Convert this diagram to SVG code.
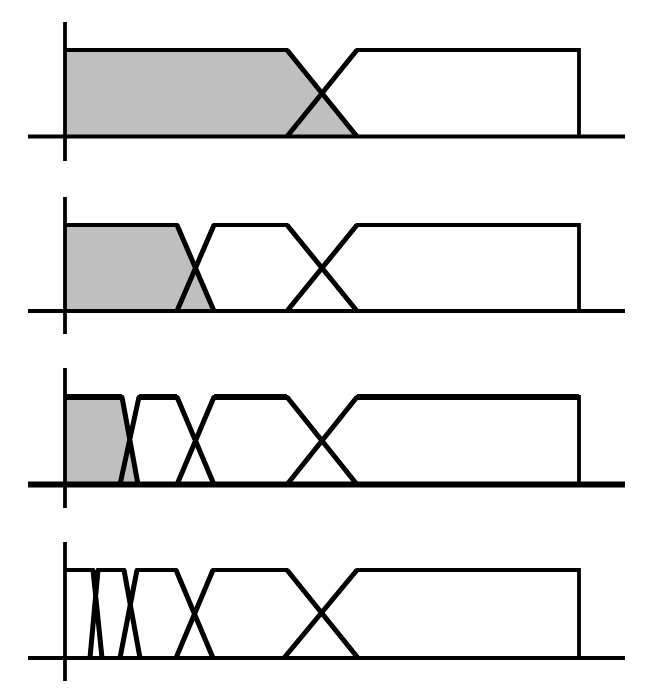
<svg xmlns="http://www.w3.org/2000/svg" width="654" height="692" viewBox="0 0 654 692">
<style>
.bg{fill:#ffffff}
.fill{fill:#bfbfbf;stroke:none}
.mf{fill:none;stroke:#000;stroke-width:3.8;stroke-linejoin:miter;stroke-linecap:butt}
.ax{fill:none;stroke:#000;stroke-width:3.8}
.thick{fill:none;stroke:#000;stroke-width:5.8}
.d{fill:none;stroke:#000;stroke-width:5;stroke-linecap:butt}
</style>
<rect class="bg" x="0" y="0" width="654" height="692"/>
<g id="panel1">
  <polygon class="fill" points="65,50 287,50 357,136.5 65,136.5"/>
  <polyline class="mf" points="65,50 287,50 357,136.5"/>
  <polyline class="mf" points="287,136.5 357,50 579,50 579,136.5"/>
  <path class="d" d="M287,50 L357,136.5 M287,136.5 L357,50"/>
  <line class="ax" x1="28" y1="136.5" x2="625" y2="136.5"/>
  <line class="ax" x1="65" y1="22" x2="65" y2="161"/>
</g>
<g id="panel2">
  <polygon class="fill" points="65,225 177,225 214,311 65,311"/>
  <polyline class="mf" points="65,225 177,225 214,311"/>
  <polyline class="mf" points="177,311 214,225 287,225 357,311"/>
  <polyline class="mf" points="287,311 357,225 579,225 579,311"/>
  <path class="d" d="M177,225 L214,311 M177,311 L214,225 M287,225 L357,311 M287,311 L357,225"/>
  <line class="ax" x1="28" y1="311" x2="625" y2="311"/>
  <line class="ax" x1="65" y1="197" x2="65" y2="334"/>
</g>
<g id="panel3">
  <polygon class="fill" points="65,397 122,397 138,484.5 65,484.5"/>
  <polyline class="mf" points="65,397 122,397 138,484.5"/>
  <polyline class="mf" points="120,484.5 139,397 177,397 214,484.5"/>
  <polyline class="mf" points="177,484.5 214,397 287,397 357,484.5"/>
  <polyline class="mf" points="287,484.5 357,397 579,397 579,484.5"/>
  <path class="d" d="M122,397 L138,484.5 M120,484.5 L139,397 M177,397 L214,484.5 M177,484.5 L214,397 M287,397 L357,484.5 M287,484.5 L357,397"/>
  <path class="thick" d="M65,397 H122 M139,397 H177 M214,397 H287 M357,397 H579"/>
  <line class="thick" x1="28" y1="484.5" x2="625" y2="484.5"/>
  <line class="ax" x1="65" y1="368" x2="65" y2="508"/>
</g>
<g id="panel4">
  <polyline class="mf" points="65,570 93,570 102,658"/>
  <polyline class="mf" points="90,658 98,570 124,570 140,658"/>
  <polyline class="mf" points="120,658 137,570 176,570 213,658"/>
  <polyline class="mf" points="176,658 213,570 287,570 358,658"/>
  <polyline class="mf" points="284,658 357,570 579,570 579,658"/>
  <path class="d" d="M93,570 L102,658 M90,658 L98,570 M124,570 L140,658 M120,658 L137,570 M176,570 L213,658 M176,658 L213,570 M287,570 L358,658 M284,658 L357,570"/>
  <line class="ax" x1="28" y1="658" x2="625" y2="658"/>
  <line class="ax" x1="65" y1="542" x2="65" y2="681"/>
</g>
</svg>
